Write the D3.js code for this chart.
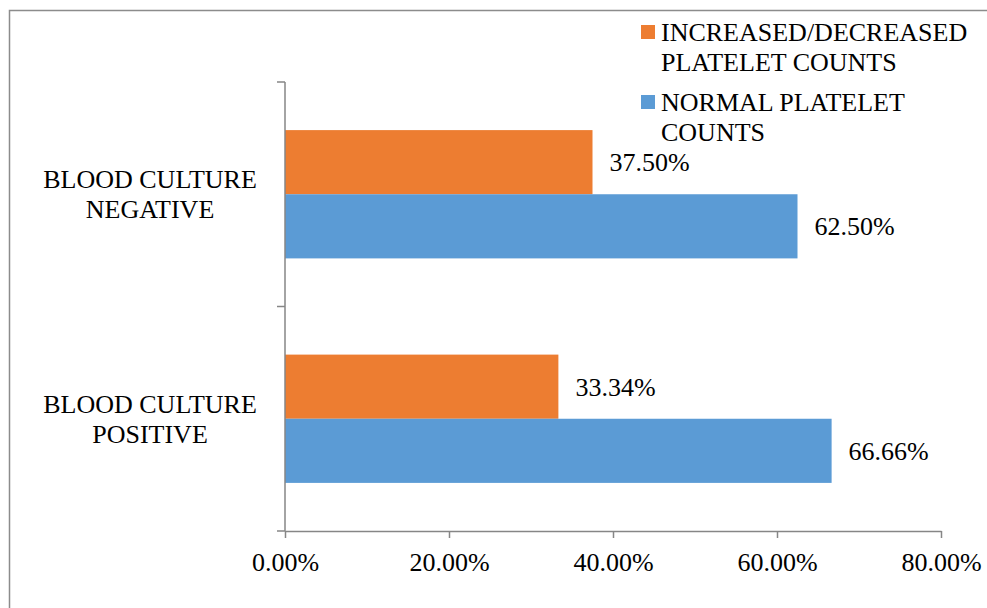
<!DOCTYPE html>
<html>
<head>
<meta charset="utf-8">
<script src="https://cdn.jsdelivr.net/npm/d3@7"></script>
<style>
  body { margin: 0; background: #fff; }
  svg { display: block; font-family: "Liberation Serif", "Times New Roman", serif; }
</style>
</head>
<body>
<div id="chart"></div>
<script>
// chart data
const categories = ["BLOOD CULTURE NEGATIVE", "BLOOD CULTURE POSITIVE"]
const categoryLines = [["BLOOD CULTURE", "NEGATIVE"], ["BLOOD CULTURE", "POSITIVE"]]
const seriesNames = ["INCREASED/DECREASED PLATELET COUNTS", "NORMAL PLATELET COUNTS"]
const legendLines = [["INCREASED/DECREASED", "PLATELET COUNTS"], ["NORMAL PLATELET", "COUNTS"]]
const alteredValues = [37.50, 33.34]
const normalValues = [62.50, 66.66]
const xTicks = [0, 20, 40, 60, 80]
const colors = ["#ED7D31", "#5B9BD5"]

const width = 987, height = 608
const plot = { left: 285, right: 941, top: 82, bottom: 531 }
const fontSize = 26

const svg = d3.select("#chart").append("svg")
  .attr("width", width)
  .attr("height", height)

// outer frame (left and top edges only are visible)
svg.append("path")
  .attr("d", `M9.5,${height} V10.5 H${width}`)
  .attr("fill", "none")
  .attr("stroke", "#8c8c8c")
  .attr("stroke-width", 1.5)

const x = d3.scaleLinear().domain([0, 80]).range([plot.left, plot.right])
const y = d3.scaleBand().domain(categories).range([plot.top, plot.bottom]).padding(0)
const ySeries = d3.scaleBand().domain(seriesNames).range([0, y.bandwidth()])
  .paddingInner(0).paddingOuter(0.75)

// rows of bars built from the series arrays
const rows = categories.map((c, i) => ({
  category: c,
  values: [
    { series: seriesNames[0], value: alteredValues[i], color: colors[0] },
    { series: seriesNames[1], value: normalValues[i], color: colors[1] }
  ]
}))

const groups = svg.append("g").selectAll("g")
  .data(rows)
  .join("g")
  .attr("transform", d => `translate(0,${y(d.category)})`)

groups.selectAll("rect")
  .data(d => d.values)
  .join("rect")
  .attr("x", x(0))
  .attr("y", d => ySeries(d.series))
  .attr("width", d => x(d.value) - x(0))
  .attr("height", ySeries.bandwidth())
  .attr("fill", d => d.color)

groups.selectAll("text.value")
  .data(d => d.values)
  .join("text")
  .attr("class", "value")
  .attr("x", d => x(d.value) + 17)
  .attr("y", d => ySeries(d.series) + ySeries.bandwidth() / 2)
  .attr("dy", "0.35em")
  .attr("font-size", fontSize)
  .attr("fill", "#000")
  .text(d => d.value.toFixed(2) + "%")

// x axis
const gx = svg.append("g")
  .attr("transform", `translate(0,${plot.bottom})`)
  .call(d3.axisBottom(x).tickValues(xTicks).tickSize(7).tickSizeOuter(0)
    .tickFormat(d => d.toFixed(2) + "%"))
gx.select(".domain").attr("stroke", "#868686").attr("stroke-width", 1.5)
gx.selectAll(".tick line").attr("stroke", "#868686").attr("stroke-width", 1.5)
gx.selectAll(".tick text")
  .attr("font-family", "Liberation Serif, serif")
  .attr("font-size", fontSize)
  .attr("fill", "#000")
  .attr("y", 22)
  .attr("dy", "0.71em")

// y axis: line with ticks at band edges
const gy = svg.append("g")
gy.append("line")
  .attr("x1", plot.left).attr("x2", plot.left)
  .attr("y1", plot.top).attr("y2", plot.bottom)
  .attr("stroke", "#868686").attr("stroke-width", 1.5)
const edges = categories.map(c => y(c)).concat([plot.bottom])
gy.selectAll("line.tick")
  .data(edges)
  .join("line")
  .attr("class", "tick")
  .attr("x1", plot.left - 8).attr("x2", plot.left)
  .attr("y1", d => d).attr("y2", d => d)
  .attr("stroke", "#868686").attr("stroke-width", 1.5)

// category labels, two lines centred
gy.selectAll("text")
  .data(categories)
  .join("text")
  .attr("text-anchor", "middle")
  .attr("font-size", fontSize)
  .attr("fill", "#000")
  .attr("transform", d => `translate(150,${y(d) + y.bandwidth() / 2})`)
  .each(function (d, i) {
    const lines = categoryLines[i]
    d3.select(this).selectAll("tspan")
      .data(lines)
      .join("tspan")
      .attr("x", 0)
      .attr("y", (_, j) => (j - (lines.length - 1) / 2) * 30)
      .attr("dy", "0.35em")
      .text(t => t)
  })

// legend
const legend = svg.append("g").attr("transform", "translate(641,0)")
const legendTops = [25, 95]
seriesNames.forEach((s, i) => {
  const g = legend.append("g").attr("transform", `translate(0,${legendTops[i]})`)
  g.append("rect").attr("width", 14).attr("height", 14).attr("fill", colors[i])
  g.append("text")
    .attr("x", 20)
    .attr("font-size", fontSize)
    .attr("fill", "#000")
    .selectAll("tspan")
    .data(legendLines[i])
    .join("tspan")
    .attr("x", 20)
    .attr("y", (_, j) => 7 + j * 30)
    .attr("dy", "0.35em")
    .text(t => t)
})
</script>
</body>
</html>
